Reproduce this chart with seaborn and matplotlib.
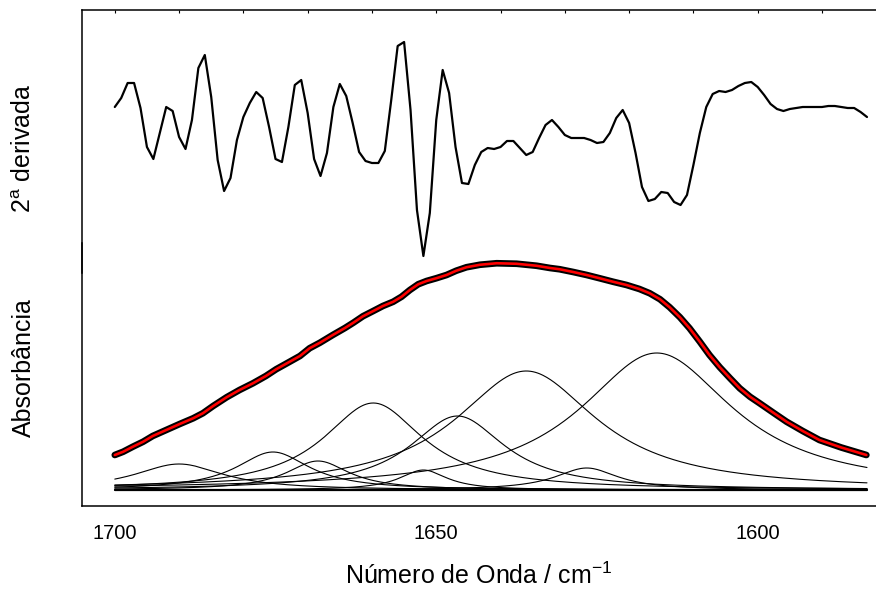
import matplotlib

matplotlib.use("Agg")

import matplotlib.pyplot as plt
from matplotlib.ticker import MultipleLocator, FixedLocator, NullFormatter
import numpy as np
import pandas as pd
import seaborn as sns


# second derivative, one point per cm-1 from 1700 down to 1583 (arbitrary units)
D2_START = 1700
D2_VALUES = [
    0.23, 0.32, 0.47, 0.47, 0.22, -0.17, -0.29, -0.03, 0.23, 0.19,
    -0.07, -0.19, 0.10, 0.62, 0.75, 0.33, -0.30, -0.61, -0.48, -0.10,
    0.13, 0.27, 0.38, 0.32, 0.03, -0.29, -0.32, 0.03, 0.45, 0.50,
    0.17, -0.29, -0.46, -0.23, 0.23, 0.46, 0.34, 0.07, -0.22, -0.31,
    -0.33, -0.33, -0.21, 0.30, 0.84, 0.88, 0.20, -0.80, -1.26, -0.83,
    0.10, 0.60, 0.37, -0.17, -0.53, -0.54, -0.35, -0.22, -0.18, -0.19,
    -0.17, -0.11, -0.11, -0.18, -0.25, -0.22, -0.08, 0.05, 0.10, 0.03,
    -0.05, -0.08, -0.08, -0.08, -0.10, -0.13, -0.12, -0.03, 0.12, 0.20,
    0.07, -0.23, -0.57, -0.71, -0.69, -0.62, -0.63, -0.72, -0.75, -0.65,
    -0.35, -0.03, 0.23, 0.36, 0.39, 0.38, 0.40, 0.44, 0.47, 0.48,
    0.43, 0.35, 0.26, 0.21, 0.19, 0.21, 0.22, 0.23, 0.23, 0.23,
    0.23, 0.24, 0.24, 0.23, 0.22, 0.22, 0.18, 0.13,
]

# measured absorbance spectrum (envelope)
ABS_WAVENUMBER = [
    1700, 1698.7, 1697.2, 1695.6, 1694.1, 1692, 1689.9, 1687.8, 1686.3, 1684.7,
    1682.6, 1680.6, 1678.5, 1676.5, 1674.9, 1672.8, 1671.2, 1669.7, 1668.1, 1666.1,
    1664.2, 1662.9, 1661.4, 1659.8, 1658.3, 1656.7, 1655.4, 1654.1, 1652.8, 1651.5,
    1650, 1648.4, 1646.9, 1645.3, 1643.2, 1640.6, 1637.5, 1634.4, 1632.3, 1630.8,
    1628.7, 1626.6, 1624.6, 1622.5, 1620.4, 1618.4, 1616.8, 1615.2, 1613.7, 1612.1,
    1610.6, 1609, 1607.5, 1605.9, 1604.3, 1602.8, 1601.2, 1599.7, 1597.5, 1595.5,
    1593, 1590.4, 1587, 1583.1,
]
ABS_VALUES = [
    0.140, 0.153, 0.173, 0.193, 0.216, 0.240, 0.264, 0.287, 0.307, 0.336,
    0.371, 0.400, 0.427, 0.456, 0.483, 0.513, 0.536, 0.567, 0.589, 0.620,
    0.648, 0.669, 0.695, 0.716, 0.736, 0.753, 0.773, 0.800, 0.823, 0.836,
    0.847, 0.860, 0.877, 0.891, 0.901, 0.907, 0.905, 0.897, 0.888, 0.883,
    0.872, 0.860, 0.847, 0.833, 0.820, 0.804, 0.787, 0.763, 0.731, 0.691,
    0.647, 0.593, 0.540, 0.491, 0.447, 0.407, 0.373, 0.347, 0.308, 0.273,
    0.236, 0.200, 0.170, 0.140,
]

# fitted bands (Lorentzian): centre, height, half width
BAND_CENTERS = [1690.0, 1675.4, 1668.4, 1659.8, 1652.0, 1646.7, 1636.0, 1626.6, 1615.7]
BAND_HEIGHTS = [0.104, 0.152, 0.116, 0.348, 0.080, 0.296, 0.476, 0.088, 0.548]
BAND_HWHM = [8.5, 7.0, 6.0, 9.5, 4.5, 9.0, 13.4, 6.0, 14.5]

FIG_W, FIG_H = 876, 592


def configure_style():
    sns.set_style("white")
    plt.rcParams.update(
        {
            "font.family": ["Liberation Sans", "DejaVu Sans"],
            "mathtext.fontset": "custom",
            "mathtext.rm": "Liberation Sans",
            "mathtext.it": "Liberation Sans:italic",
            "axes.edgecolor": "black",
            "axes.labelcolor": "black",
            "axes.linewidth": 1.1,
            "xtick.color": "black",
            "ytick.color": "black",
            "text.color": "black",
        }
    )


def px_axes(fig, left, top, right, bottom):
    return fig.add_axes(
        [left / FIG_W, 1 - bottom / FIG_H, (right - left) / FIG_W, (bottom - top) / FIG_H]
    )


def main():
    configure_style()
    fig = plt.figure(figsize=(FIG_W / 100, FIG_H / 100), dpi=100)

    xlim = (1705.1, 1581.6)

    # bottom panel: absorbance and fitted bands
    ax_abs = px_axes(fig, 82, 243, 876, 506)
    ax_abs.patch.set_alpha(0)
    grid = np.linspace(1583, 1700, 600)
    rows = []
    for i, (c, h, w) in enumerate(zip(BAND_CENTERS, BAND_HEIGHTS, BAND_HWHM)):
        prof = h / (1 + ((grid - c) / w) ** 2)
        rows.append(pd.DataFrame({"wn": grid, "abs": prof, "band": i}))
    bands = pd.concat(rows, ignore_index=True)
    sns.lineplot(
        data=bands, x="wn", y="abs", units="band", estimator=None,
        color="black", linewidth=0.8, ax=ax_abs, legend=False,
    )
    ax_abs.plot([1583, 1700], [0, 0], color="black", linewidth=1.6)
    sns.lineplot(x=ABS_WAVENUMBER, y=ABS_VALUES, color="black", linewidth=4.8, ax=ax_abs)
    sns.lineplot(x=ABS_WAVENUMBER, y=ABS_VALUES, color="#FF0000", linewidth=1.9, ax=ax_abs)
    for line in ax_abs.lines:
        line.set_clip_on(False)
        line.set_solid_joinstyle("round")

    ax_abs.set_xlim(*xlim)
    ax_abs.set_ylim(-0.064, 0.988)
    for side in ("top", "right"):
        ax_abs.spines[side].set_visible(False)
    ax_abs.xaxis.set_major_locator(FixedLocator([1700, 1650, 1600]))
    ax_abs.xaxis.set_minor_locator(FixedLocator([1675, 1625]))
    ax_abs.tick_params(axis="x", which="major", direction="out", length=7, width=1.1,
                       labelsize=14.5, pad=6)
    ax_abs.tick_params(axis="x", which="minor", direction="out", length=4, width=1.1)
    ax_abs.yaxis.set_major_locator(MultipleLocator(0.05))
    ax_abs.yaxis.set_major_formatter(NullFormatter())
    ax_abs.tick_params(axis="y", direction="in", length=1.5, width=0.6)
    ax_abs.set_xlabel("Número de Onda / cm$^{-1}$", fontsize=18, labelpad=14)
    ax_abs.set_ylabel("")

    # top panel: second derivative
    ax_d2 = px_axes(fig, 82, 10, 876, 273)
    ax_d2.patch.set_alpha(0)
    d2_x = [D2_START - i for i in range(len(D2_VALUES))]
    sns.lineplot(x=d2_x, y=D2_VALUES, color="black", linewidth=1.6, ax=ax_d2)
    for line in ax_d2.lines:
        line.set_clip_on(False)
    ax_d2.set_xlim(*xlim)
    ax_d2.set_ylim(-1.43, 1.20)
    for side in ("bottom", "right"):
        ax_d2.spines[side].set_visible(False)
    ax_d2.xaxis.set_major_locator(MultipleLocator(10))
    ax_d2.tick_params(axis="x", direction="in", length=2.5, width=0.8,
                      bottom=False, top=True, labelbottom=False, labeltop=False)
    ax_d2.yaxis.set_major_locator(MultipleLocator(0.29))
    ax_d2.yaxis.set_major_formatter(NullFormatter())
    ax_d2.tick_params(axis="y", direction="in", length=1.5, width=0.6)
    ax_d2.set_xlabel("")
    ax_d2.set_ylabel("")

    fig.text(24 / FIG_W, 1 - 148 / FIG_H, "2$^{\\mathrm{a}}$ derivada", rotation=90,
             ha="center", va="center", fontsize=18)
    fig.text(24 / FIG_W, 1 - 368 / FIG_H, "Absorbância", rotation=90,
             ha="center", va="center", fontsize=18)

    fig.savefig("out.png", dpi=100, facecolor="white")
    plt.close(fig)


if __name__ == "__main__":
    main()
